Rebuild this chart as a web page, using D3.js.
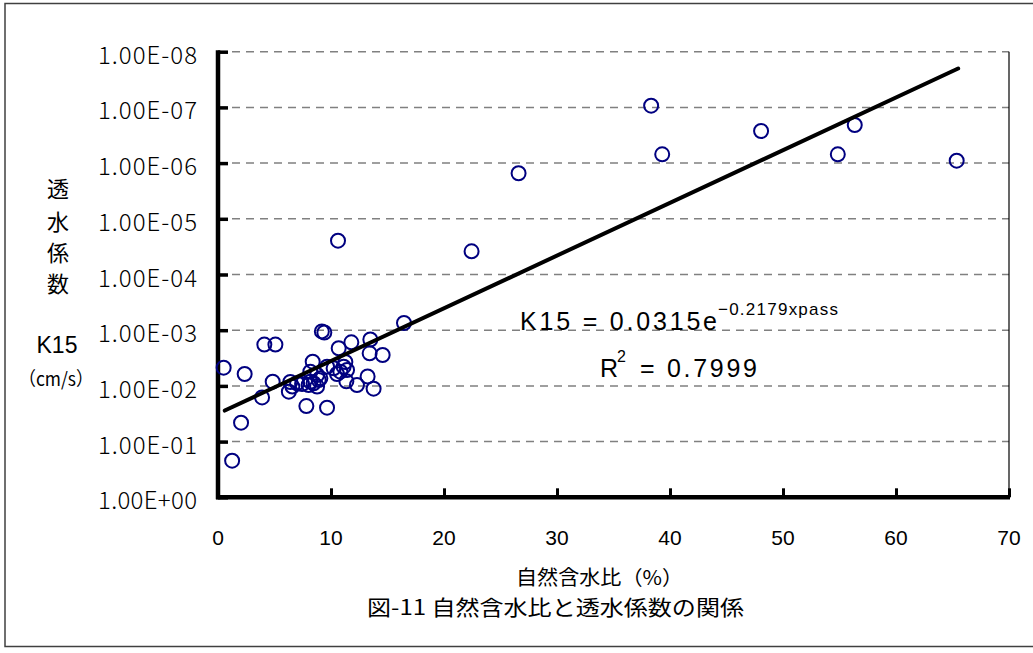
<!DOCTYPE html>
<html><head><meta charset="utf-8">
<script src="https://cdn.jsdelivr.net/npm/d3@7"></script>
<style>body{margin:0;background:#fff}svg{display:block}</style>
</head><body>
<svg id="c" width="1033" height="653"></svg>
<script>
// ---- data ----
const xValues = [0.5,1.25,2.04,2.36,4.10,5.08,3.90,4.84,6.27,6.40,6.58,7.00,7.44,7.82,8.02,8.17,8.17,8.38,8.46,8.77,8.77,9.06,9.19,9.41,9.65,9.65,10.23,10.53,10.68,10.83,11.12,11.27,11.42,11.36,11.80,12.30,13.24,13.42,13.48,13.77,14.57,16.46,10.62,22.44,26.60,38.33,39.31,48.06,54.85,56.35,65.37,8.91];
const kValues = [4.71e-3,0.220,0.0458,6.11e-3,1.81e-3,1.81e-3,0.0161,8.41e-3,0.0127,8.51e-3,0.0103,8.97e-3,9.25e-3,0.0230,9.64e-3,5.56e-3,8.41e-3,3.68e-3,8.97e-3,0.0103,6.37e-3,7.31e-3,1.05e-3,1.10e-3,4.52e-3,0.0246,4.83e-3,6.11e-3,2.11e-3,5.56e-3,4.52e-3,3.72e-3,5.18e-3,8.26e-3,1.65e-3,9.64e-3,6.78e-3,2.60e-3,1.47e-3,0.0112,2.79e-3,7.43e-4,2.47e-5,3.84e-5,1.52e-6,9.31e-8,6.95e-7,2.65e-7,6.95e-7,2.07e-7,9.06e-7,7.83e-3];
const trendX = [0.6, 65.5];
const trendK = [0.0277, 2.0e-8];
const xTicks = [0,10,20,30,40,50,60,70];
const yTicks = [1,1e-1,1e-2,1e-3,1e-4,1e-5,1e-6,1e-7,1e-8];
const yTickLabels = ["1.00E+00","1.00E-01","1.00E-02","1.00E-03","1.00E-04","1.00E-05","1.00E-06","1.00E-07","1.00E-08"];
const yTitleChars = ["透","水","係","数"];

const svg = d3.select("#c");
const L = 218, R = 1009, T = 51.7, B = 497.3;
const x = d3.scaleLinear().domain([0,70]).range([L,R]);
const y = d3.scaleLog().domain([1e-8,1]).range([T,B]);

// outer frame
svg.append("rect").attr("x",5).attr("y",3.5).attr("width",1040).attr("height",643)
  .attr("fill","none").attr("stroke","#404040").attr("stroke-width",1.5);

// grid lines
svg.append("g").selectAll("line").data(yTicks.filter(d=>d<1)).join("line")
  .attr("x1",L).attr("x2",R).attr("y1",d=>y(d)).attr("y2",d=>y(d))
  .attr("stroke","#808080").attr("stroke-width",1.5).attr("stroke-dasharray","8,6");

// right border
svg.append("line").attr("x1",R).attr("x2",R).attr("y1",T).attr("y2",B)
  .attr("stroke","#000").attr("stroke-width",1.2);

// axes
const yAxis = d3.axisRight(y).tickValues(yTicks).tickSize(10).tickFormat("");
const gy = svg.append("g").attr("transform",`translate(${L},0)`).call(yAxis);
gy.select(".domain").remove();
gy.selectAll(".tick line").attr("stroke","#000").attr("stroke-width",3.5);
const xAxis = d3.axisTop(x).tickValues(xTicks).tickSize(9).tickFormat("");
const gx = svg.append("g").attr("transform",`translate(0,${B})`).call(xAxis);
gx.select(".domain").remove();
gx.selectAll(".tick line").attr("stroke","#000").attr("stroke-width",3);
svg.append("line").attr("x1",L).attr("x2",L).attr("y1",T-1.5).attr("y2",B+2)
  .attr("stroke","#000").attr("stroke-width",4.5);
svg.append("line").attr("x1",L-2).attr("x2",R+1).attr("y1",B).attr("y2",B)
  .attr("stroke","#000").attr("stroke-width",4.5);

// y tick labels
svg.append("g").selectAll("text").data(yTicks).join("text")
  .attr("x",197).attr("y",d=>y(d)+12).attr("text-anchor","end")
  .attr("font-family","'Noto Sans CJK JP'").attr("font-size",24).attr("font-weight",300)
  .attr("textLength",99).attr("lengthAdjust","spacing")
  .text((d,i)=>yTickLabels[i]);

// x tick labels
svg.append("g").selectAll("text").data(xTicks).join("text")
  .attr("x",d=>x(d)).attr("y",545).attr("text-anchor","middle")
  .attr("font-family","'Liberation Sans', Arial").attr("font-size",21)
  .text(d=>d);

// points
svg.append("g").selectAll("circle").data(xValues.map((v,i)=>[v,kValues[i]])).join("circle")
  .attr("cx",d=>x(d[0])).attr("cy",d=>y(d[1])).attr("r",7)
  .attr("fill","none").attr("stroke","#000080").attr("stroke-width",2);

// trend line
const line = d3.line().x(d=>x(d[0])).y(d=>y(d[1]));
svg.append("path").datum(trendX.map((v,i)=>[v,trendK[i]])).attr("d",line)
  .attr("fill","none").attr("stroke","#000").attr("stroke-width",4).attr("stroke-linecap","round");

// y axis title
svg.append("g").selectAll("text").data(yTitleChars).join("text")
  .attr("x",58).attr("y",(d,i)=>[187,220,251,282][i]).attr("dominant-baseline","central")
  .attr("text-anchor","middle").attr("font-family","'Noto Sans CJK JP'").attr("font-size",22)
  .text(d=>d);
svg.append("text").attr("x",57).attr("y",353).attr("text-anchor","middle")
  .attr("font-family","'Liberation Sans', Arial").attr("font-size",23).text("K15");
svg.append("text").attr("x",56).attr("y",377).attr("dominant-baseline","central").attr("text-anchor","middle")
  .attr("font-family","'Noto Sans CJK JP'").attr("font-size",19)
  .attr("textLength",75).attr("lengthAdjust","spacingAndGlyphs").text("（cm/s）");

// x axis title & caption
svg.append("text").attr("x",516).attr("y",576).attr("dominant-baseline","central")
  .attr("font-family","'Noto Sans CJK JP'").attr("font-size",20)
  .attr("textLength",167).attr("lengthAdjust","spacingAndGlyphs").text("自然含水比（%）");
svg.append("text").attr("x",367).attr("y",606).attr("dominant-baseline","central")
  .attr("font-family","'Noto Sans CJK JP'").attr("font-size",21)
  .attr("textLength",377).attr("lengthAdjust","spacingAndGlyphs").text("図-11 自然含水比と透水係数の関係");

// equation
const eqFont = "'Liberation Sans', Arial";
svg.append("text").attr("x",520).attr("y",330).attr("font-family",eqFont).attr("font-size",25)
  .attr("textLength",197).attr("lengthAdjust","spacing").text("K15 = 0.0315e");
svg.append("text").attr("x",718).attr("y",315).attr("font-family",eqFont).attr("font-size",17)
  .attr("textLength",120).attr("lengthAdjust","spacing").text("\u22120.2179xpass");
svg.append("text").attr("x",600).attr("y",377).attr("font-family",eqFont).attr("font-size",25).text("R");
svg.append("text").attr("x",617).attr("y",362).attr("font-family",eqFont).attr("font-size",16).text("2");
svg.append("text").attr("x",640).attr("y",377).attr("font-family",eqFont).attr("font-size",25)
  .attr("textLength",117).attr("lengthAdjust","spacing").text("= 0.7999");
</script>
</body></html>
